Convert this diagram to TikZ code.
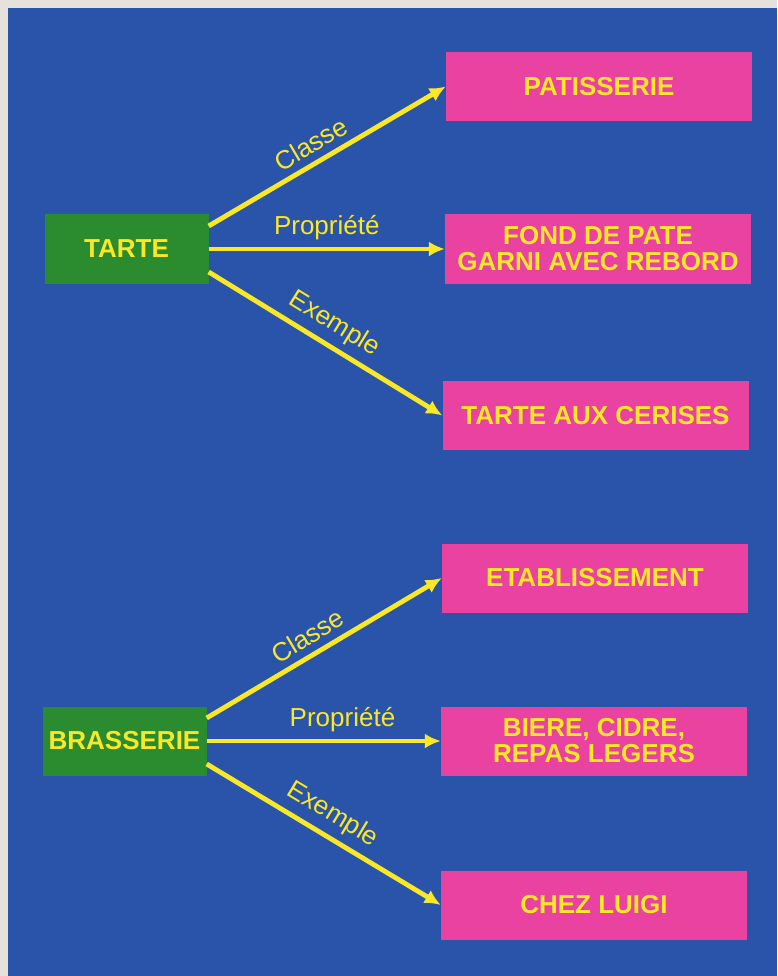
\documentclass[tikz,border=0pt]{standalone}
\usepackage{fontspec}
\setmainfont{Liberation Sans}
\usetikzlibrary{arrows.meta}
\definecolor{rahmen}{RGB}{228,226,218}
\definecolor{blau}{RGB}{42,84,170}
\definecolor{gruen}{RGB}{42,140,46}
\definecolor{rosa}{RGB}{234,66,160}
\definecolor{gelb}{RGB}{250,232,40}

\begin{document}
\begin{tikzpicture}[x=1pt, y=-1pt,
		begriff/.style={fill=gruen, text=gelb, font=\bfseries\fontsize{26}{26}\selectfont, minimum width=164pt, minimum height=69pt, inner sep=0pt, align=center},
		ziel/.style={begriff, fill=rosa, minimum width=306pt},
		pfeil/.style={draw=gelb, line width=4.8pt},
		relation/.style={font=\fontsize{26}{26}\selectfont, text=gelb, sloped, above=5pt, inner sep=2pt},
		>={Latex[length=16pt,width=15pt]}]  %Pfeilspitzen
		% Rahmen und Hintergrund
		\fill[rahmen] (0,0) rectangle (777,976);
		\fill[blau] (8,8) rectangle (777,976);
		% Begriffe links
		\node[begriff] (tarte) at (126.5,249) {TARTE};
		\node[begriff] (brasserie) at (124.5,741) {BRASSERIE};
		% Ziele rechts
		\node[ziel] (pat) at (599,86.5) {PATISSERIE};
		\node[ziel] (fond) at (598,249) {FOND DE PATE\\GARNI AVEC REBORD};
		\node[ziel] (cerises) at (595.5,415.5) {TARTE AUX CERISES};
		\node[ziel] (etab) at (595,578) {ETABLISSEMENT};
		\node[ziel] (biere) at (594,741) {BIERE, CIDRE,\\REPAS LEGERS};
		\node[ziel] (chez) at (594,905) {CHEZ LUIGI};
		% Pfeile zeichnen
		\foreach \quelle/\oben/\mitte/\unten/\p in {tarte/pat/fond/cerises/.5, brasserie/etab/biere/chez/.58}{
			\draw[->, pfeil] ([yshift=23pt]\quelle.east) -- (\oben.west) node[relation, pos=.47] {Classe};
			\draw[->, pfeil] (\quelle.east) -- (\mitte.west) node[relation, pos=\p] {Propriété};
			\draw[->, pfeil] ([yshift=-23pt]\quelle.east) -- (\unten.west) node[relation, pos=.49] {Exemple};
		}
	\end{tikzpicture}
\end{document}
